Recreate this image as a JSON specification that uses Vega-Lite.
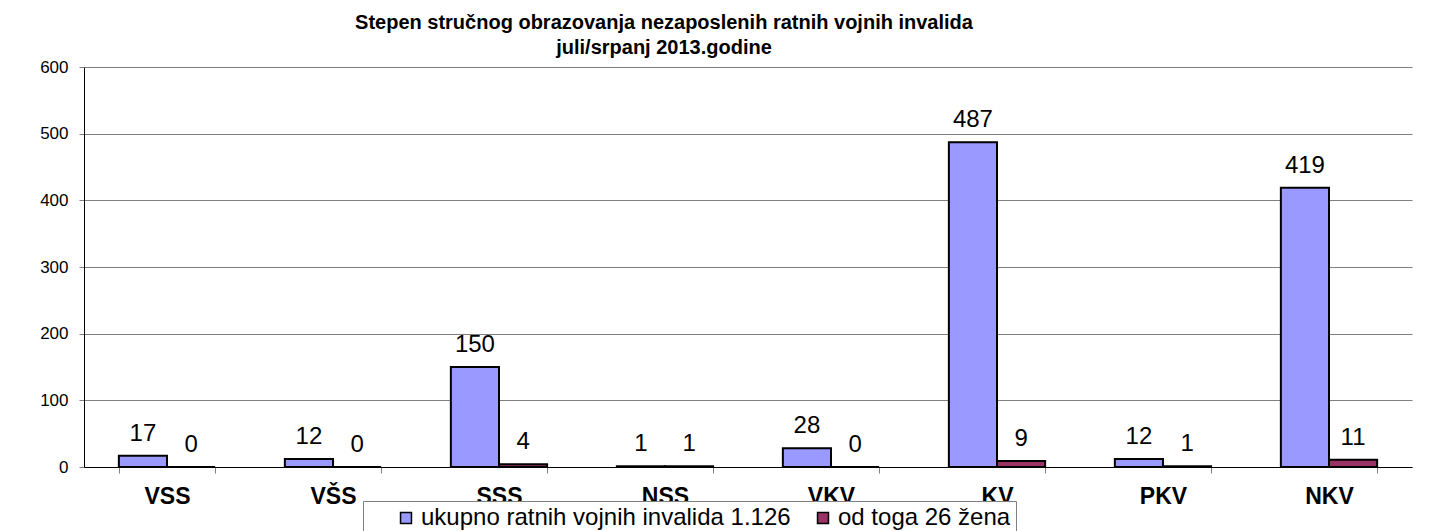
{
  "$schema": "https://vega.github.io/schema/vega-lite/v6.json",
  "width": 1328,
  "height": 400,
  "autosize": {"type": "none"},
  "padding": {"left": 84, "top": 67, "right": 18, "bottom": 64},
  "background": "white",
  "title": {
    "text": ["Stepen stručnog obrazovanja nezaposlenih ratnih vojnih invalida", "juli/srpanj 2013.godine"],
    "fontSize": 20,
    "fontWeight": "bold",
    "color": "black",
    "anchor": "middle",
    "frame": "group",
    "dx": -84,
    "lineHeight": 25,
    "offset": 0
  },
  "data": {
    "values": [
      {"stepen": "VSS", "serija": "ukupno ratnih vojnih invalida 1.126", "broj": 17},
      {"stepen": "VSS", "serija": "od toga 26 žena", "broj": 0},
      {"stepen": "VŠS", "serija": "ukupno ratnih vojnih invalida 1.126", "broj": 12},
      {"stepen": "VŠS", "serija": "od toga 26 žena", "broj": 0},
      {"stepen": "SSS", "serija": "ukupno ratnih vojnih invalida 1.126", "broj": 150},
      {"stepen": "SSS", "serija": "od toga 26 žena", "broj": 4},
      {"stepen": "NSS", "serija": "ukupno ratnih vojnih invalida 1.126", "broj": 1},
      {"stepen": "NSS", "serija": "od toga 26 žena", "broj": 1},
      {"stepen": "VKV", "serija": "ukupno ratnih vojnih invalida 1.126", "broj": 28},
      {"stepen": "VKV", "serija": "od toga 26 žena", "broj": 0},
      {"stepen": "KV", "serija": "ukupno ratnih vojnih invalida 1.126", "broj": 487},
      {"stepen": "KV", "serija": "od toga 26 žena", "broj": 9},
      {"stepen": "PKV", "serija": "ukupno ratnih vojnih invalida 1.126", "broj": 12},
      {"stepen": "PKV", "serija": "od toga 26 žena", "broj": 1},
      {"stepen": "NKV", "serija": "ukupno ratnih vojnih invalida 1.126", "broj": 419},
      {"stepen": "NKV", "serija": "od toga 26 žena", "broj": 11}
    ]
  },
  "encoding": {
    "x": {
      "field": "stepen",
      "type": "nominal",
      "sort": ["VSS", "VŠS", "SSS", "NSS", "VKV", "KV", "PKV", "NKV"],
      "scale": {"paddingInner": 0.42, "paddingOuter": 0.21},
      "axis": {
        "title": null,
        "labelAngle": 0,
        "labelFontSize": 23,
        "labelFontWeight": "bold",
        "labelColor": "black",
        "labelPadding": 12,
        "tickBand": "extent",
        "tickSize": 6,
        "tickColor": "#808080",
        "domainColor": "black",
        "grid": false
      }
    },
    "xOffset": {
      "field": "serija",
      "type": "nominal",
      "sort": ["ukupno ratnih vojnih invalida 1.126", "od toga 26 žena"]
    },
    "y": {
      "field": "broj",
      "type": "quantitative",
      "scale": {"domain": [0, 600], "nice": false},
      "axis": {
        "title": null,
        "values": [0, 100, 200, 300, 400, 500, 600],
        "labelFontSize": 17,
        "labelColor": "black",
        "labelPadding": 11,
        "tickSize": 5,
        "tickColor": "#808080",
        "domainColor": "black",
        "grid": true,
        "gridColor": "#808080"
      }
    }
  },
  "layer": [
    {
      "mark": {"type": "bar", "stroke": "black", "strokeWidth": 2},
      "encoding": {
        "color": {
          "field": "serija",
          "type": "nominal",
          "scale": {
            "domain": ["ukupno ratnih vojnih invalida 1.126", "od toga 26 žena"],
            "range": ["#9999FF", "#993366"]
          },
          "legend": {
            "orient": "none",
            "legendX": 279,
            "legendY": 434,
            "direction": "horizontal",
            "title": " ",
            "titleOrient": "left",
            "titleFontSize": 23,
            "titlePadding": 26,
            "labelFontSize": 24,
            "labelColor": "black",
            "labelLimit": 600,
            "labelOffset": 3,
            "columnPadding": 20,
            "symbolType": "square",
            "symbolSize": 120,
            "symbolStrokeColor": "black",
            "symbolStrokeWidth": 1.5,
            "strokeColor": "#808080",
            "fillColor": "white",
            "padding": 5
          }
        }
      }
    },
    {
      "mark": {"type": "text", "dy": -15, "baseline": "alphabetic", "fontSize": 24, "color": "black"},
      "encoding": {"text": {"field": "broj", "type": "quantitative"}}
    }
  ],
  "config": {
    "font": "Liberation Sans",
    "view": {"stroke": null}
  }
}
